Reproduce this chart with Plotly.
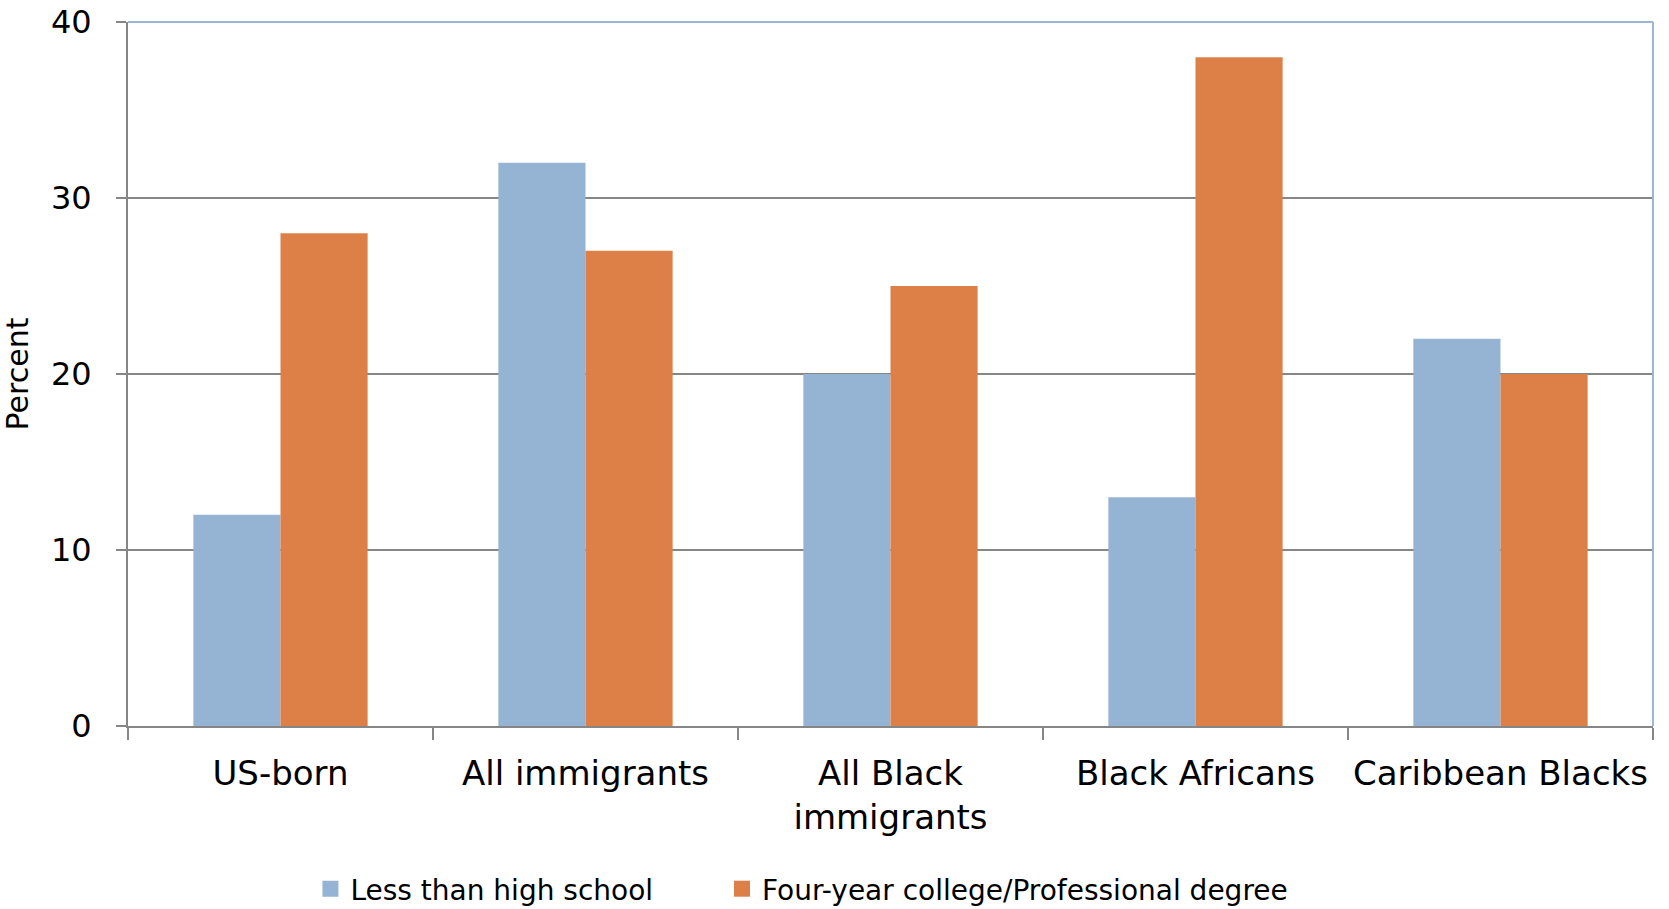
import plotly.graph_objects as go

categories = ["US-born", "All immigrants", "All Black<br>immigrants", "Black Africans", "Caribbean Blacks"]
less_than_hs = [12, 32, 20, 13, 22]
college = [28, 27, 25, 38, 20]
y_ticks = [0, 10, 20, 30, 40]
series_names = ["Less than high school", "Four-year college/Professional degree"]
series_colors = ["#95B3D3", "#DD8048"]

FONT = "DejaVu Sans"
fig = go.Figure()
for name, vals, col in zip(series_names, [less_than_hs, college], series_colors):
    fig.add_trace(go.Bar(x=categories, y=vals, name=name, showlegend=False,
                         marker=dict(color=col, line=dict(width=0))))
# legend entries with square markers, each in its own legend box
for name, col, lg in zip(series_names, series_colors, ["legend", "legend2"]):
    fig.add_trace(go.Scatter(x=[None], y=[None], mode="markers", name=name, legend=lg,
                             marker=dict(symbol="square", size=18, color=col)))

legend_common = dict(orientation="h", xref="container", yref="container",
                     xanchor="left", y=0.022, yanchor="middle",
                     font=dict(size=28, family=FONT), itemwidth=30, bgcolor="rgba(0,0,0,0)")

fig.update_layout(
    width=1669, height=909,
    margin=dict(l=128, r=16, t=22, b=183, autoexpand=False),
    paper_bgcolor="white", plot_bgcolor="white",
    barmode="group", bargap=0.4286, bargroupgap=0,
    font=dict(family=FONT, color="black"),
    legend=dict(x=0.186, **legend_common),
    legend2=dict(x=0.4326, **legend_common),
    showlegend=True,
)
fig.update_xaxes(showline=True, linecolor="#868686", linewidth=2, automargin=False,
                 ticks="outside", tickson="boundaries", ticklen=12, tickcolor="#868686", tickwidth=2,
                 tickfont=dict(size=34, family=FONT), ticklabelstandoff=16, showgrid=False)
fig.update_yaxes(range=[0, 40], tickvals=y_ticks, showline=True, linecolor="#868686", linewidth=2,
                 automargin=False,
                 ticks="outside", ticklen=10, tickcolor="#868686", tickwidth=2,
                 showgrid=True, gridcolor="#868686", gridwidth=1.5,
                 tickfont=dict(size=32, family=FONT), ticklabelstandoff=18,
                 title=dict(text="Percent", font=dict(size=30, family=FONT), standoff=16),
                 zeroline=False)
# light blue frame on top and right edges
fig.add_shape(type="line", xref="paper", yref="paper", x0=0, x1=1, y0=1, y1=1,
              line=dict(color="#9BB7D4", width=2))
fig.add_shape(type="line", xref="paper", yref="paper", x0=1, x1=1, y0=0, y1=1,
              line=dict(color="#9BB7D4", width=2))

fig.write_html("out.html")
